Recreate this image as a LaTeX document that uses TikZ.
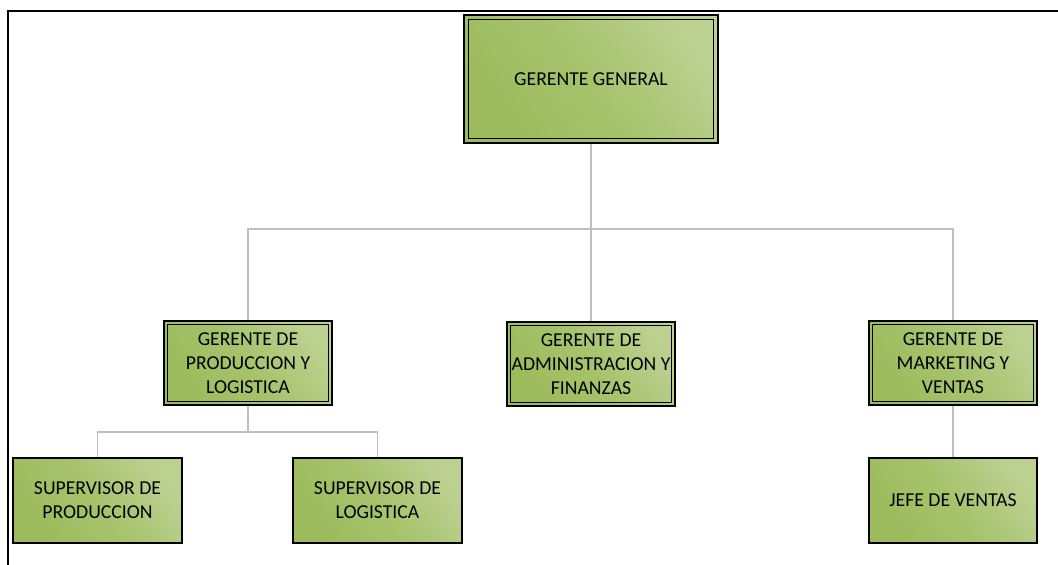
\documentclass[tikz,border=0pt]{standalone}
\usepackage{fontspec}
\setmainfont{Carlito}
\definecolor{gA}{RGB}{156,187,92}
\definecolor{gM}{RGB}{166,195,108}
\definecolor{gB}{RGB}{188,208,144}
\definecolor{conncol}{RGB}{191,191,191}
\begin{document}
\begin{tikzpicture}[x=1pt,y=-1pt,
  box/.style={draw=black, line width=1.3pt, top color=gB, bottom color=gA,
    middle color=gM, shading angle=-55,
    inner sep=0pt, align=center, text=black,
    font=\fontsize{19.7}{24}\selectfont},
  conn/.style={draw=conncol, line width=1.6pt},
  frame/.style={draw=black, line width=2pt}]
\useasboundingbox (0,0) rectangle (1058,565);
% frame
\coordinate (f1) at (7.5,565);
\coordinate (f2) at (7.5,10.5);
\coordinate (f3) at (1058,10.5);
\draw[frame] (f1) -- (f2) -- (f3);
% nodes
\node[box, minimum width=254pt, minimum height=128pt] (gg) at (591,79) {GERENTE GENERAL};
\node[box, minimum width=168pt, minimum height=84pt] (prod) at (248,363) {GERENTE DE\\PRODUCCION Y\\LOGISTICA};
\node[box, minimum width=168pt, minimum height=84pt] (adm) at (591,364) {GERENTE DE\\ADMINISTRACION Y\\FINANZAS};
\node[box, minimum width=168pt, minimum height=84pt] (mkt) at (953,363) {GERENTE DE\\MARKETING Y\\VENTAS};
\node[box, minimum width=169pt, minimum height=85pt] (sp) at (97.5,500.5) {SUPERVISOR DE\\PRODUCCION};
\node[box, minimum width=169pt, minimum height=85pt] (sl) at (377.5,500.5) {SUPERVISOR DE\\LOGISTICA};
\node[box, minimum width=168pt, minimum height=85pt] (jv) at (953,500.5) {JEFE DE VENTAS};
% inner borders
\draw[black, line width=1.3pt] ([xshift=5pt,yshift=-5pt]gg.north west) rectangle ([xshift=-5pt,yshift=5pt]gg.south east);
\foreach \n in {prod,adm,mkt}
  \draw[black, line width=1.3pt] ([xshift=4pt,yshift=-4pt]\n.north west) rectangle ([xshift=-4pt,yshift=4pt]\n.south east);
% connectors
\coordinate (b1) at (591,229);
\coordinate (b2) at (248,432);
\draw[conn] (gg.south) -- (b1);
\draw[conn] (prod.north) |- (b1) -| (mkt.north);
\draw[conn] (b1) -- (adm.north);
\draw[conn] (prod.south) -- (b2);
\draw[conn] (sp.north) |- (b2) -| (sl.north);
\draw[conn] (mkt.south) -- (jv.north);
\end{tikzpicture}
\end{document}
